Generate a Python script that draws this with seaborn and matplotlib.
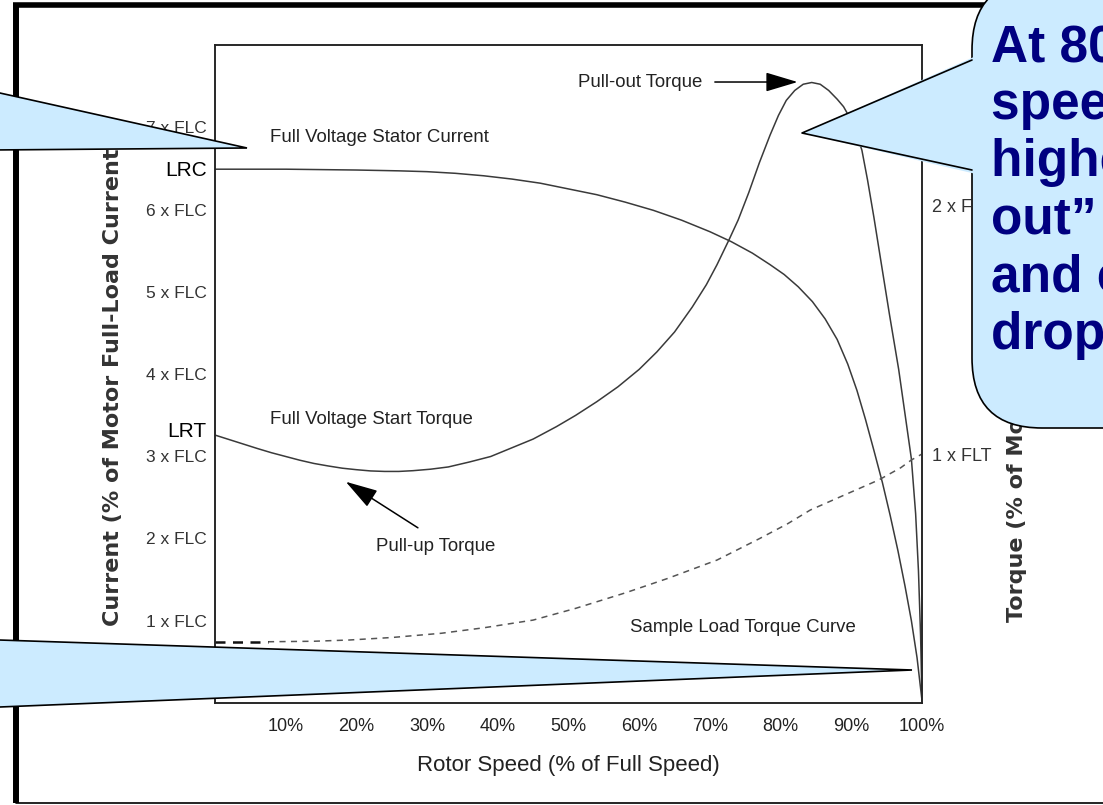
import pandas as pd
import matplotlib
matplotlib.use('Agg')
import matplotlib.pyplot as plt
import seaborn as sns
from matplotlib.patches import Polygon, FancyBboxPatch

# rotor speed (% of full speed) vs stator current (multiples of FLC)
current_speed = [0, 10, 20, 26, 30, 34, 38, 42, 46, 50, 54, 58, 62, 66, 70, 73, 76, 78.5,
                 80.5, 82.5, 84.5, 86.3, 88, 89.5, 90.8, 92, 93.2, 94.4, 95.5, 96.6, 97.6,
                 98.5, 99.3, 100]
current_flc = [6.49, 6.49, 6.48, 6.47, 6.46, 6.44, 6.41, 6.37, 6.32, 6.25, 6.18, 6.09, 5.99,
               5.87, 5.73, 5.61, 5.47, 5.33, 5.21, 5.06, 4.88, 4.67, 4.42, 4.12, 3.80, 3.45,
               3.07, 2.68, 2.28, 1.85, 1.42, 1.00, 0.55, 0.03]

# motor torque (multiples of FLT)
torque_speed = [0, 2, 4, 6, 8, 10, 12, 14, 16, 18, 20, 22, 24, 26, 28, 30.5, 33, 36, 39, 42,
                45, 48.3, 51, 54, 57, 60, 62.5, 65, 67.5, 69.5, 71, 72.7, 74, 75.5, 77, 78.5,
                79.7, 80.8, 82, 83.2, 84.4, 85.6, 86.8, 88, 88.9, 89.8, 90.7, 91.5, 92.3,
                93.2, 94.1, 95.4, 96.7, 97.6, 98.5, 99.1, 99.5, 99.8, 100]
torque_flt = [1.076, 1.058, 1.04, 1.022, 1.005, 0.99, 0.975, 0.962, 0.952, 0.943, 0.937,
              0.932, 0.930, 0.930, 0.933, 0.939, 0.948, 0.968, 0.99, 1.025, 1.06, 1.11,
              1.155, 1.21, 1.27, 1.34, 1.41, 1.49, 1.59, 1.68, 1.76, 1.86, 1.94, 2.05, 2.17,
              2.28, 2.36, 2.42, 2.46, 2.485, 2.492, 2.485, 2.46, 2.425, 2.395, 2.35, 2.29,
              2.22, 2.10, 1.95, 1.79, 1.56, 1.34, 1.16, 0.98, 0.76, 0.53, 0.27, 0.01]

# sample load torque (multiples of FLT)
load_speed = [7.5, 14, 19, 25, 32, 38, 45, 51, 58, 64, 71, 77, 81, 84.2, 89, 93.9, 97, 98.5, 100]
load_flt = [0.246, 0.248, 0.253, 0.263, 0.28, 0.302, 0.333, 0.38, 0.442, 0.50, 0.574,
            0.66, 0.72, 0.775, 0.835, 0.896, 0.945, 0.976, 1.0]
load_start_speed = [0, 7.5]
load_start_flt = [0.246, 0.246]

x_ticks = [10, 20, 30, 40, 50, 60, 70, 80, 90, 100]
x_labels = ['10%', '20%', '30%', '40%', '50%', '60%', '70%', '80%', '90%', '100%']
left_ticks = [7, 6.5, 6, 5, 4, 3.32, 3, 2, 1]
left_labels = ['7 x FLC', 'LRC', '6 x FLC', '5 x FLC', '4 x FLC', 'LRT', '3 x FLC', '2 x FLC', '1 x FLC']
right_ticks = [1, 2]
right_labels = ['1 x FLT', '2 x FLT']

callout_lines = ['At 80% of', 'speed, the', 'highest \u201cpull-', 'out\u201d torque',
                 'and current', 'drops off']

sns.set_style('white')
plt.rcParams['font.family'] = ['Liberation Sans', 'DejaVu Sans']

W, H = 1103, 805
fig = plt.figure(figsize=(W / 100, H / 100), dpi=100)
fig.patch.set_facecolor('white')

ax = fig.add_axes([215 / W, (H - 703) / H, 707 / W, 658 / H])
ax2 = ax.twinx()

line_kw = dict(color='#3a3a3a', linewidth=1.1)
sns.lineplot(data=pd.DataFrame({'speed': current_speed, 'flc': current_flc}),
             x='speed', y='flc', ax=ax, **line_kw)
sns.lineplot(data=pd.DataFrame({'speed': torque_speed, 'flt': torque_flt}),
             x='speed', y='flt', ax=ax2, **line_kw)
sns.lineplot(data=pd.DataFrame({'speed': load_speed, 'flt': load_flt}),
             x='speed', y='flt', ax=ax2, color='#555555', linewidth=1.1,
             linestyle=(0, (4, 3.5)))
sns.lineplot(data=pd.DataFrame({'speed': load_start_speed, 'flt': load_start_flt}),
             x='speed', y='flt', ax=ax2, color='#111111', linewidth=1.8,
             linestyle=(0, (4, 3)))

ax.set_xlim(0, 100)
ax.set_ylim(0, 8.0)
ax2.set_ylim(0, 658 / 249)

ax.set_xlabel('Rotor Speed (% of Full Speed)', fontsize=16, color='#222222', labelpad=14)
ax.set_ylabel('')
ax2.set_ylabel('')

ax.set_xticks(x_ticks)
ax.set_xticklabels(x_labels, fontsize=13, color='#222222')
ax.tick_params(axis='x', length=0, pad=11)

ax.set_yticks(left_ticks)
ax.set_yticklabels(left_labels, fontsize=12.5, color='#333333')
ax.tick_params(axis='y', length=0, pad=6)
for lbl in ax.get_yticklabels():
    if lbl.get_text() in ('LRC', 'LRT'):
        lbl.set_fontsize(15)
        lbl.set_color('black')

ax2.set_yticks(right_ticks)
ax2.set_yticklabels(right_labels, fontsize=13, color='#333333')
ax2.tick_params(axis='y', length=0, pad=7)

for a in (ax, ax2):
    for sp in a.spines.values():
        sp.set_color('#222222')
        sp.set_linewidth(1.1)
    a.grid(False)

txt_kw = dict(fontsize=13.4, color='#222222', va='center')
ax.text(7.8, 6.88, 'Full Voltage Stator Current', **txt_kw)
ax.text(7.8, 3.45, 'Full Voltage Start Torque', **txt_kw)
ax.text(69.0, 7.55, 'Pull-out Torque', ha='right', **txt_kw)
ax.text(22.8, 1.90, 'Pull-up Torque', **txt_kw)
ax.text(58.7, 0.92, 'Sample Load Torque Curve', **txt_kw)

arrow_kw = dict(arrowstyle='-|>,head_length=1.0,head_width=0.3', color='black',
                linewidth=1.1, mutation_scale=20, shrinkA=0, shrinkB=0)
ax.annotate('', xy=(82.4, 7.55), xytext=(70.7, 7.55), arrowprops=arrow_kw)
ax.annotate('', xy=(18.5, 2.69), xytext=(28.7, 2.13), arrowprops=arrow_kw)

# overlay in pixel coordinates for the slide frame, axis titles and callouts
ov = fig.add_axes([0, 0, 1, 1])
ov.set_xlim(0, W)
ov.set_ylim(H, 0)
ov.axis('off')
ov.set_zorder(10)
ov.patch.set_alpha(0)

ov.plot([16, 16], [3, 803], color='black', linewidth=4.3, solid_capstyle='butt')
ov.plot([13, 1000], [5.5, 5.5], color='black', linewidth=4.0, solid_capstyle='butt')
ov.plot([16, W], [803, 803], color='black', linewidth=1.2)

ov.text(113, 626, 'Current (% of Motor Full-Load Current)', rotation=90, ha='center',
        va='bottom', fontsize=16, fontweight='bold', color='#333333',
        family=['DejaVu Sans'])
ov.text(1017, 622, 'Torque (% of Motor Full-Load Torque)', rotation=90, ha='center',
        va='bottom', fontsize=16, fontweight='bold', color='#333333',
        family=['DejaVu Sans'])

fill = '#CCEBFF'
ov.add_patch(Polygon([(-10, 90.8), (247, 148), (-10, 150)], closed=True,
                     facecolor=fill, edgecolor='black', linewidth=1.2, zorder=5))
ov.add_patch(Polygon([(-10, 639.7), (912, 670), (-10, 707.4)], closed=True,
                     facecolor=fill, edgecolor='black', linewidth=1.2, zorder=5))

ov.add_patch(FancyBboxPatch((972, -20), 260, 448,
                            boxstyle='round,pad=0,rounding_size=70',
                            facecolor=fill, edgecolor='black', linewidth=1.2, zorder=5))
ov.add_patch(Polygon([(802, 133), (976, 56), (976, 174)], closed=True,
                     facecolor=fill, edgecolor='none', zorder=6))
ov.plot([972, 802, 972], [60, 133, 170], color='black', linewidth=1.2, zorder=7)

for i, line in enumerate(callout_lines):
    ov.text(991, 61 + 57.6 * i, line, fontsize=37, fontweight='bold', color='#000080',
            va='baseline', ha='left', zorder=8)

fig.savefig('out.png', dpi=100)
